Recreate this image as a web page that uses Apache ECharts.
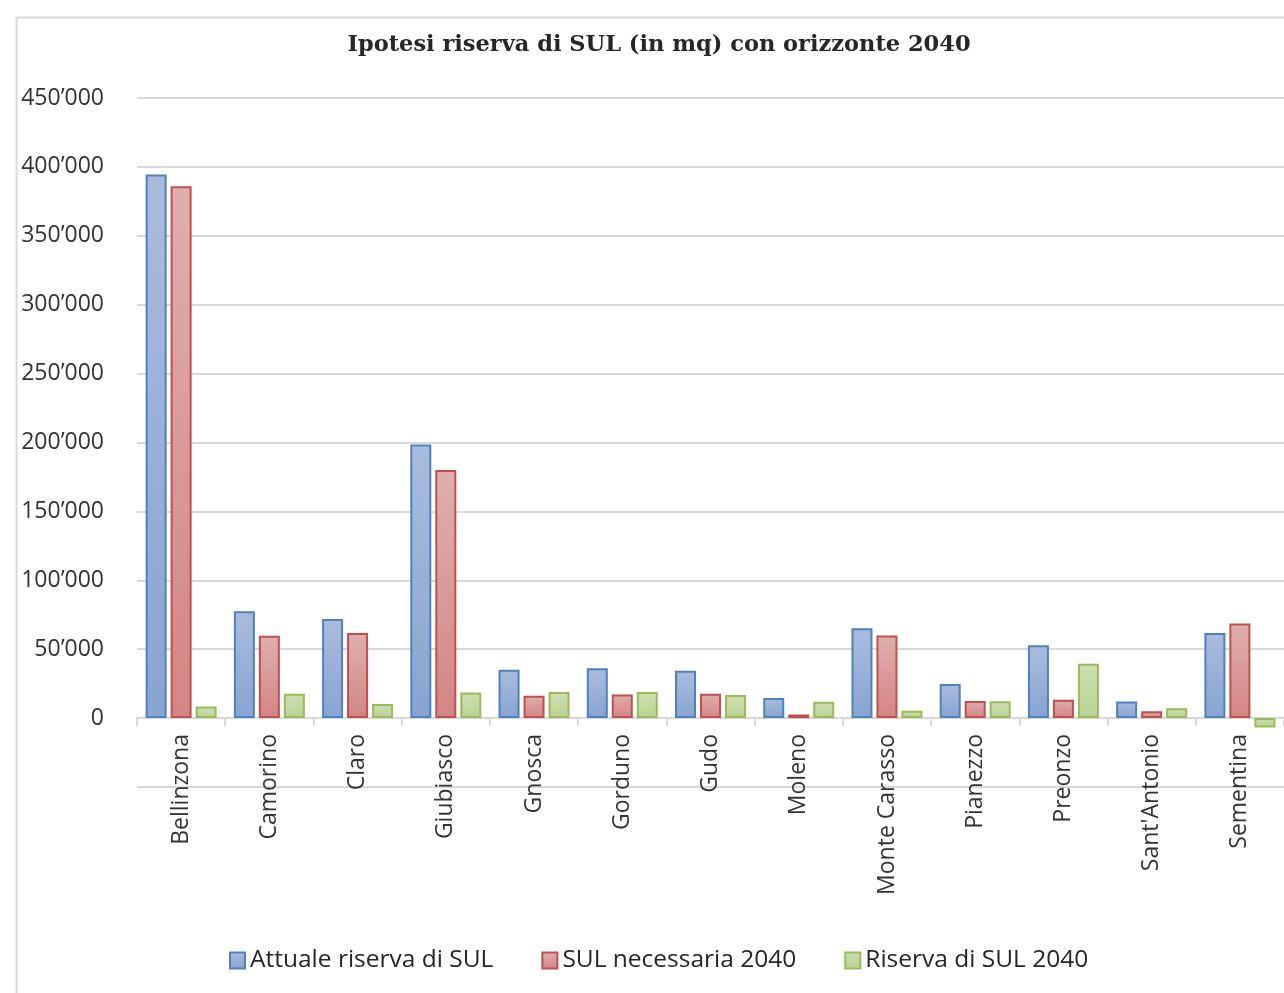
<!DOCTYPE html>
<html>
<head>
<meta charset="utf-8">
<script src="https://cdn.jsdelivr.net/npm/echarts@6/dist/echarts.min.js"></script>
<style>
  html, body { margin: 0; padding: 0; background: #ffffff; }
  #chart { width: 1284px; height: 993px; }
</style>
</head>
<body>
<div id="chart"></div>
<script>
// Municipalities (categories on the x axis)
const categories = [
  'Bellinzona', 'Camorino', 'Claro', 'Giubiasco', 'Gnosca', 'Gorduno', 'Gudo',
  'Moleno', 'Monte Carasso', 'Pianezzo', 'Preonzo', "Sant'Antonio", 'Sementina'
];

// Series names
const seriesNames = ['Attuale riserva di SUL', 'SUL necessaria 2040', 'Riserva di SUL 2040'];

// Floor area values in m²
const attualeRiserva = [394500, 77500, 72000, 198600, 35100, 36100, 34400, 14500, 65200, 24800, 52800, 12100, 61800];
const sulNecessaria  = [386000, 59800, 61800, 180000, 16200, 17200, 17700, 2600, 59900, 12500, 13300, 5000, 68600];
const riserva2040    = [8500, 17700, 10200, 18600, 18900, 18900, 16700, 11900, 5300, 12300, 39500, 7100, -6800];

// Value axis range
const yMin = -50000;
const yMax = 450000;
const yStep = 50000;

function fmtThousands(v) {
  if (v < 0) return '';
  return String(v).replace(/\B(?=(\d{3})+(?!\d))/g, '\u2019');
}

function grad(top, bottom) {
  return {
    type: 'linear', x: 0, y: 0, x2: 0, y2: 1,
    colorStops: [{ offset: 0, color: top }, { offset: 1, color: bottom }]
  };
}

const styles = [
  { fill: grad('#aabcdc', '#88a4d1'), border: '#4f81bd' },
  { fill: grad('#dfafae', '#d38585'), border: '#c0504d' },
  { fill: grad('#cfdeb3', '#b9d293'), border: '#9bbb59' }
];

const seriesData = [attualeRiserva, sulNecessaria, riserva2040];

const chart = echarts.init(document.getElementById('chart'), null, { renderer: 'canvas' });

chart.setOption({
  animation: false,
  backgroundColor: '#ffffff',
  title: {
    text: 'Ipotesi riserva di SUL (in mq) con orizzonte 2040',
    left: 654,
    top: 29,
    textAlign: 'center',
    textStyle: {
      fontFamily: 'DejaVu Serif',
      fontWeight: 'bold',
      fontSize: 22.5,
      color: '#262626'
    }
  },
  graphic: [{
    type: 'rect',
    left: 14, top: 15, z: -1,
    shape: { width: 1300, height: 1000 },
    style: { fill: 'none', stroke: '#d9d9d9', lineWidth: 2 }
  }],
  legend: {
    data: seriesNames,
    left: 224,
    top: 943,
    icon: 'rect',
    itemGap: 48,
    itemWidth: 15,
    itemHeight: 16,
    textStyle: {
      fontFamily: 'Open Sans',
      fontSize: 24.5,
      color: '#262626'
    }
  },
  grid: {
    left: 137,
    right: -11,
    top: 98,
    bottom: 206
  },
  xAxis: {
    type: 'category',
    data: categories,
    axisLine: { onZero: true, lineStyle: { color: '#d9d9d9', width: 2 } },
    axisTick: { show: true, length: 8, lineStyle: { color: '#d9d9d9', width: 2 } },
    axisLabel: {
      rotate: 90,
      // labels sit just under the zero line, which is 69px above the grid bottom
      margin: -53,
      interval: 0,
      fontFamily: 'Open Sans',
      fontSize: 23,
      color: '#333333'
    },
    splitLine: { show: false }
  },
  yAxis: {
    type: 'value',
    min: yMin,
    max: yMax,
    interval: yStep,
    axisLine: { show: false },
    axisTick: { show: false },
    axisLabel: {
      margin: 33,
      fontFamily: 'Open Sans',
      fontSize: 23,
      color: '#333333',
      formatter: fmtThousands
    },
    splitLine: { lineStyle: { color: '#d9d9d9', width: 2 } }
  },
  series: seriesData.map((d, i) => ({
    name: seriesNames[i],
    type: 'bar',
    data: d,
    barWidth: 21,
    barGap: '19%',
    itemStyle: {
      color: styles[i].fill,
      borderColor: styles[i].border,
      borderWidth: 2
    }
  }))
});
</script>
</body>
</html>
